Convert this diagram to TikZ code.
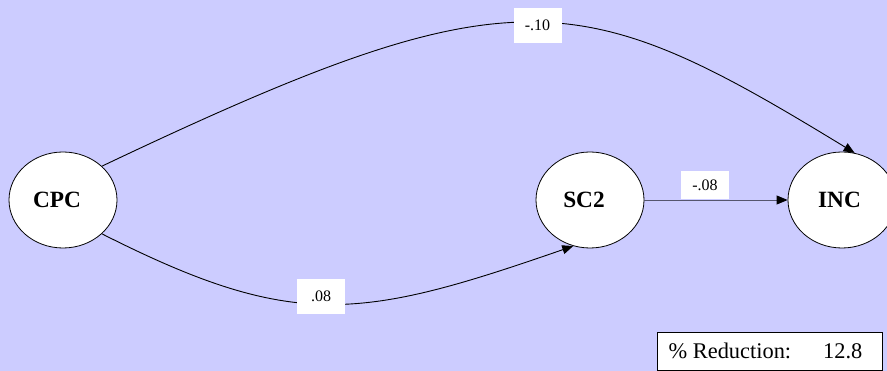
\documentclass[tikz,border=0pt]{standalone}
\usepackage{fontspec}
\setmainfont{Liberation Serif}
\usetikzlibrary{shapes.geometric,arrows.meta}
\definecolor{bg}{RGB}{204,204,255}
\definecolor{lnk}{RGB}{85,85,110}
\begin{document}
\begin{tikzpicture}[x=1pt,y=-1pt,
  var/.style={ellipse,draw=black,line width=0.8pt,fill=white,minimum width=108pt,minimum height=96pt,inner sep=0pt,font=\fontsize{23.3}{25}\selectfont\bfseries},
  coef/.style={fill=white,inner sep=0pt,minimum width=48pt,font=\fontsize{16}{18}\selectfont},
  conn/.style={line width=0.9pt,-{Triangle[length=11pt,width=9pt,color=black]}},
  resbox/.style={draw=black,fill=white,line width=0.8pt,minimum width=225pt,minimum height=38pt,inner sep=0pt,font=\fontsize{22.4}{25}\selectfont}
]
\useasboundingbox (0,0) rectangle (887,371);
\clip (0,0) rectangle (887,371);
\fill[bg] (0,0) rectangle (887,371);
\node[var] (cpc) at (63,200) {\hspace*{-12pt}CPC};
\node[var] (sc2) at (590,200) {\hspace*{-12pt}SC2};
\node[var] (inc) at (842,200) {\hspace*{-5pt}INC};
\draw[conn] (cpc.41) .. controls (515,-30) and (578,-16) .. (inc.75);
\draw[conn] (cpc.-41) .. controls (294,331) and (360,320) .. (sc2.250);
\draw[conn,draw=lnk] (sc2) -- (inc);
\node[coef,minimum height=35pt] (l1) at (537.5,25.5) {-.10};
\node[coef,minimum height=28pt] (l2) at (705,185) {-.08};
\node[coef,minimum height=35pt] (l3) at (321,296.5) {.08};
\node[resbox] (red) at (769.5,351) {\hspace*{-8pt}\% Reduction:\hspace{32pt}12.8};
\end{tikzpicture}
\end{document}
